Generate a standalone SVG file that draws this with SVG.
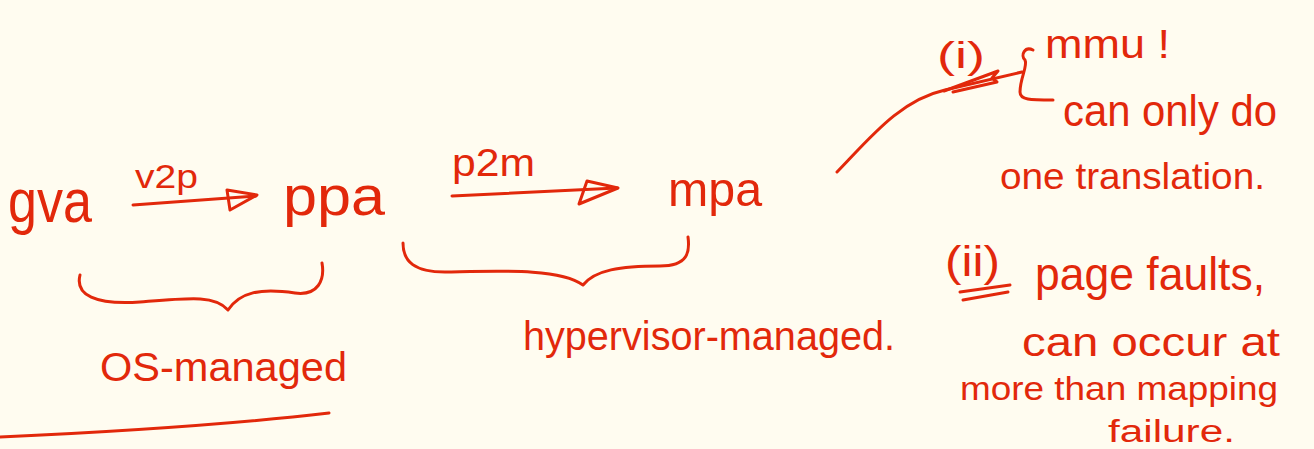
<svg xmlns="http://www.w3.org/2000/svg" width="1314" height="449" viewBox="0 0 1314 449">
  <defs>
    <style>
      text { font-family: "Liberation Sans", "DejaVu Sans", sans-serif; fill: #e2280b; }
      .ink { fill: none; stroke: #e2280b; stroke-width: 3; stroke-linecap: round; stroke-linejoin: round; }
    </style>
  </defs>
  <rect width="1314" height="449" fill="#fffcf0"/>

  <!-- address spaces -->
  <g id="gva"><text x="8" y="222" font-size="62" textLength="84" lengthAdjust="spacingAndGlyphs">gva</text></g>
  <g id="ppa"><text x="283" y="215" font-size="56" textLength="102" lengthAdjust="spacingAndGlyphs">ppa</text></g>
  <g id="mpa"><text x="668" y="206" font-size="48" textLength="94" lengthAdjust="spacingAndGlyphs">mpa</text></g>

  <!-- translation arrows and their labels -->
  <g id="connectors">
    <path class="ink" d="M133,205 L256,196"/>
    <path class="ink" d="M227,190 L257,195 L230,210 Z"/>
    <text x="135" y="188" font-size="34" textLength="63" lengthAdjust="spacingAndGlyphs">v2p</text>

    <path class="ink" d="M452,196 L617,188"/>
    <path class="ink" d="M587,181 L618,188 L579,204 Z"/>
    <text x="452" y="176" font-size="38" textLength="83" lengthAdjust="spacingAndGlyphs">p2m</text>

    <!-- mpa to mmu -->
    <path class="ink" d="M837,172 C870,138 900,100 945,90 L1022,72"/>
    <path class="ink" d="M944,91 L998,71 L992,78 L997,82 L953,92"/>
    <!-- mmu to its note -->
    <path class="ink" d="M1033,50 C1025,46 1020,55 1025,60 C1028,66 1020,78 1020,92 C1020,100 1030,100 1053,100"/>
  </g>

  <!-- management braces -->
  <g id="os-managed">
    <path class="ink" d="M80,275 C75,295 95,305 140,302 C190,298 215,295 228,310 C240,292 260,288 295,293 C318,296 325,280 322,263"/>
    <text x="100" y="381" font-size="40" textLength="247" lengthAdjust="spacingAndGlyphs">OS-managed</text>
    <path class="ink" d="M0,437 Q200,428 329,413"/>
  </g>
  <g id="hypervisor-managed">
    <path class="ink" d="M403,243 C403,262 415,272 445,272 C500,271 560,268 583,285 C595,270 620,266 660,266 C688,266 690,252 688,237"/>
    <text x="523" y="350" font-size="40" textLength="372" lengthAdjust="spacingAndGlyphs">hypervisor-managed.</text>
  </g>

  <!-- note (i) -->
  <g id="note-i">
    <text x="937" y="68" font-size="36" textLength="48" lengthAdjust="spacingAndGlyphs">(i)</text>
    <text x="1045" y="58" font-size="40" textLength="125" lengthAdjust="spacingAndGlyphs">mmu !</text>
    <text x="1063" y="126" font-size="44" textLength="214" lengthAdjust="spacingAndGlyphs">can only do</text>
    <text x="1000" y="189" font-size="36" textLength="265" lengthAdjust="spacingAndGlyphs">one translation.</text>
  </g>

  <!-- note (ii) -->
  <g id="note-ii">
    <text x="945" y="276" font-size="42" textLength="55" lengthAdjust="spacingAndGlyphs">(ii)</text>
    <path class="ink" d="M960,292 L1010,285 M963,300 L1008,292"/>
    <text x="1035" y="290" font-size="46" textLength="230" lengthAdjust="spacingAndGlyphs">page faults,</text>
    <text x="1022" y="356" font-size="40" textLength="258" lengthAdjust="spacingAndGlyphs">can occur at</text>
    <text x="960" y="400" font-size="34" textLength="318" lengthAdjust="spacingAndGlyphs">more than mapping</text>
    <text x="1108" y="442" font-size="31" textLength="127" lengthAdjust="spacingAndGlyphs">failure.</text>
  </g>
</svg>
